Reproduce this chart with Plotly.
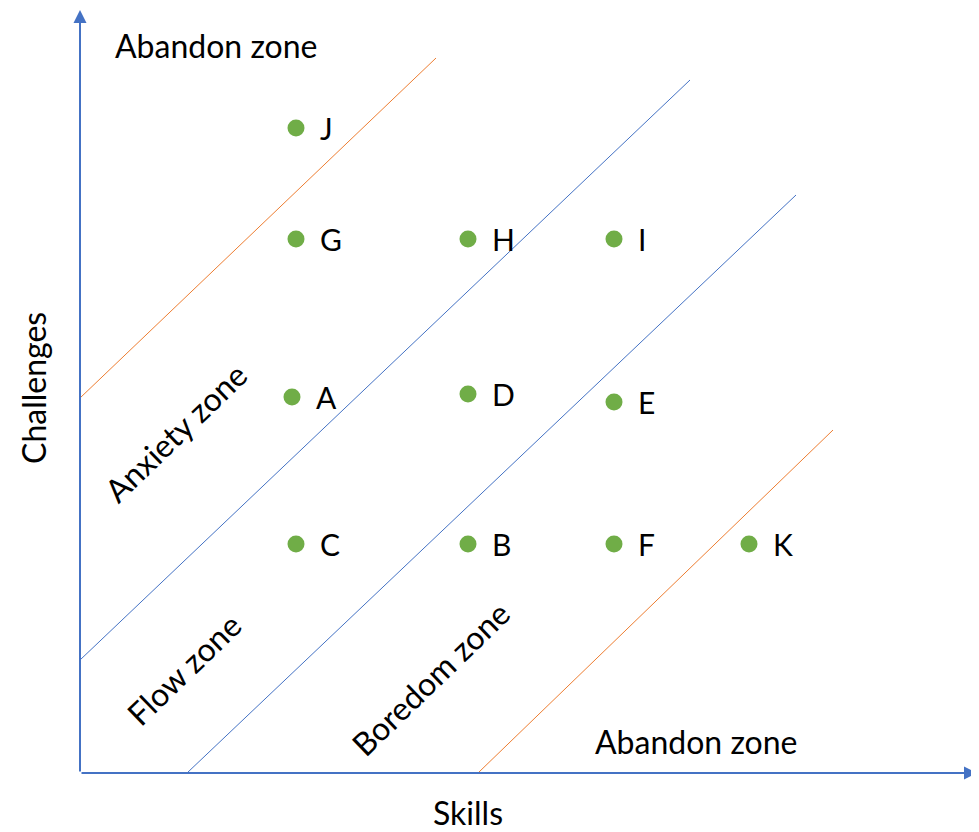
import plotly.graph_objects as go

# Data (units: skills on x, challenges on y)
point_labels = ["J", "G", "H", "I", "A", "D", "E", "C", "B", "F", "K"]
skills = [216, 216, 388, 534, 212, 388, 534, 216, 388, 534, 669]
challenges = [645, 534, 534, 534, 376, 379, 371, 229, 229, 229, 229]

# Zone boundary lines (start, end) in skills/challenges units
orange_upper_x = [0, 356]
orange_upper_y = [375, 715]
blue_upper_x = [0, 610]
blue_upper_y = [113, 693]
blue_lower_x = [107, 716]
blue_lower_y = [0, 578]
orange_lower_x = [398, 753]
orange_lower_y = [0, 343]

zone_names = ["Abandon zone", "Anxiety zone", "Flow zone", "Boredom zone", "Abandon zone"]
zone_x = [136, 95, 103, 350, 616]
zone_y = [728, 341, 104, 95, 32]
zone_angle = [0, -44, -44, -44, 0]

axis_x_end = 897
axis_y_end = 763

BLUE = "#4472C4"
ORANGE = "#ED7D31"
GREEN = "#70AD47"
FONT = "Lato, Carlito, Calibri, sans-serif"

fig = go.Figure()

for xs, ys, c in [
    (orange_upper_x, orange_upper_y, ORANGE),
    (blue_upper_x, blue_upper_y, BLUE),
    (blue_lower_x, blue_lower_y, BLUE),
    (orange_lower_x, orange_lower_y, ORANGE),
]:
    fig.add_trace(go.Scatter(x=xs, y=ys, mode="lines", line=dict(color=c, width=1),
                             hoverinfo="skip", showlegend=False))

fig.add_trace(go.Scatter(x=skills, y=challenges, mode="markers",
                         marker=dict(color=GREEN, size=17),
                         text=point_labels, showlegend=False))

annotations = []
for lab, x, y in zip(point_labels, skills, challenges):
    annotations.append(dict(x=x, y=y, text=lab, showarrow=False, xanchor="left",
                            xshift=22, yshift=0, font=dict(family=FONT, size=30, color="black")))

for name, x, y, a in zip(zone_names, zone_x, zone_y, zone_angle):
    annotations.append(dict(x=x, y=y, text=name, showarrow=False, textangle=a,
                            font=dict(family=FONT, size=32, color="black")))

# Axes with arrowheads
annotations.append(dict(x=axis_x_end, y=0, ax=0, ay=0, xref="x", yref="y", axref="x", ayref="y",
                        text="", showarrow=True, arrowhead=2, arrowsize=1.3, arrowwidth=2, arrowcolor=BLUE))
annotations.append(dict(x=0, y=axis_y_end, ax=0, ay=0, xref="x", yref="y", axref="x", ayref="y",
                        text="", showarrow=True, arrowhead=2, arrowsize=1.3, arrowwidth=2, arrowcolor=BLUE))

# Axis titles
annotations.append(dict(x=388, y=-39, text="Skills", showarrow=False,
                        font=dict(family=FONT, size=32, color="black")))
annotations.append(dict(x=-47, y=385, text="Challenges", showarrow=False, textangle=-90,
                        font=dict(family=FONT, size=32, color="black")))

# The page body adds an 8px offset; the figure is sized to fit the window and
# the ranges compensate so the origin lands at (80, 773) on the page
fig.update_layout(
    width=971, height=824,
    margin=dict(l=0, r=0, t=0, b=0),
    paper_bgcolor="white", plot_bgcolor="white",
    xaxis=dict(range=[-72, 899], visible=False, fixedrange=True),
    yaxis=dict(range=[-59, 765], visible=False, fixedrange=True),
    annotations=annotations,
    showlegend=False,
)

fig.write_html("out.html")
